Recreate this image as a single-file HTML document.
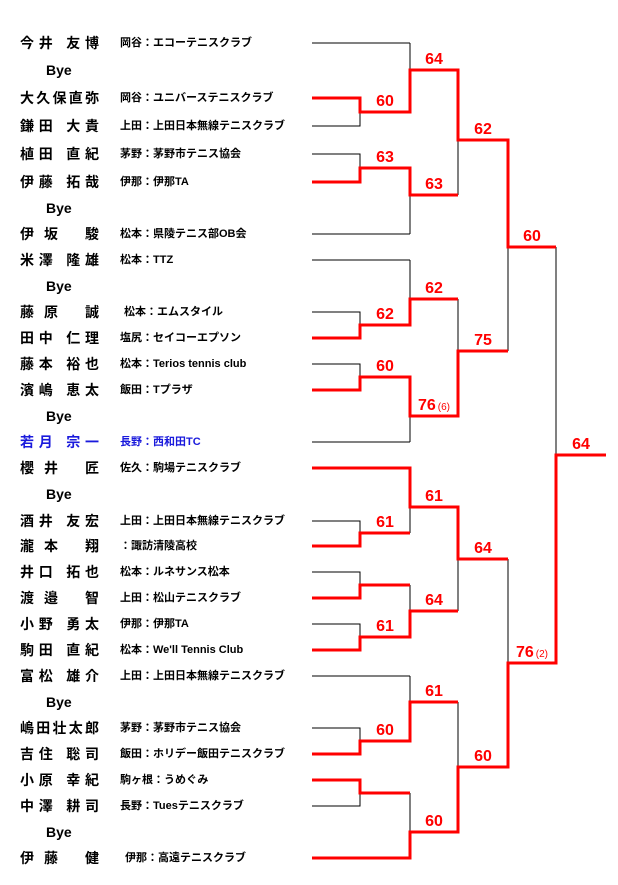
<!DOCTYPE html>
<html><head><meta charset="utf-8"><style>
html,body{margin:0;padding:0;background:#fff;}
svg{display:block;}
.n{font-family:"Liberation Sans","Noto Sans CJK JP",sans-serif;font-size:14px;font-weight:bold;fill:#000;}
.c{font-family:"Liberation Sans","Noto Sans CJK JP",sans-serif;font-size:11px;font-weight:bold;fill:#000;}
.b{fill:#1a1adc;}
.s{font-family:"Liberation Sans",sans-serif;font-size:16px;font-weight:bold;fill:#f00;text-anchor:middle;}
.ss{font-size:10px;font-weight:normal;}
</style></head><body>
<svg width="618" height="885" xmlns="http://www.w3.org/2000/svg">
<g dominant-baseline="central">
<text class="n" x="20" y="43" textLength="79" lengthAdjust="spacing">今井 友博</text><text class="c" x="120" y="43">岡谷：エコーテニスクラブ</text>
<text class="n" x="46" y="70">Bye</text>
<text class="n" x="20" y="98" textLength="79" lengthAdjust="spacing">大久保直弥</text><text class="c" x="120" y="98">岡谷：ユニバーステニスクラブ</text>
<text class="n" x="20" y="126" textLength="79" lengthAdjust="spacing">鎌田 大貴</text><text class="c" x="120" y="126">上田：上田日本無線テニスクラブ</text>
<text class="n" x="20" y="154" textLength="79" lengthAdjust="spacing">植田 直紀</text><text class="c" x="120" y="154">茅野：茅野市テニス協会</text>
<text class="n" x="20" y="182" textLength="79" lengthAdjust="spacing">伊藤 拓哉</text><text class="c" x="120" y="182">伊那：伊那TA</text>
<text class="n" x="46" y="208">Bye</text>
<text class="n" x="20" y="234" textLength="79" lengthAdjust="spacing">伊 坂　 駿</text><text class="c" x="120" y="234">松本：県陵テニス部OB会</text>
<text class="n" x="20" y="260" textLength="79" lengthAdjust="spacing">米澤 隆雄</text><text class="c" x="120" y="260">松本：TTZ</text>
<text class="n" x="46" y="286">Bye</text>
<text class="n" x="20" y="312" textLength="79" lengthAdjust="spacing">藤 原　 誠</text><text class="c" x="124" y="312">松本：エムスタイル</text>
<text class="n" x="20" y="338" textLength="79" lengthAdjust="spacing">田中 仁理</text><text class="c" x="120" y="338">塩尻：セイコーエプソン</text>
<text class="n" x="20" y="364" textLength="79" lengthAdjust="spacing">藤本 裕也</text><text class="c" x="120" y="364">松本：Terios tennis club</text>
<text class="n" x="20" y="390" textLength="79" lengthAdjust="spacing">濱嶋 恵太</text><text class="c" x="120" y="390">飯田：Tプラザ</text>
<text class="n" x="46" y="416">Bye</text>
<text class="n b" x="20" y="442" textLength="79" lengthAdjust="spacing">若月 宗一</text><text class="c b" x="120" y="442">長野：西和田TC</text>
<text class="n" x="20" y="468" textLength="79" lengthAdjust="spacing">櫻 井　 匠</text><text class="c" x="120" y="468">佐久：駒場テニスクラブ</text>
<text class="n" x="46" y="494">Bye</text>
<text class="n" x="20" y="521" textLength="79" lengthAdjust="spacing">酒井 友宏</text><text class="c" x="120" y="521">上田：上田日本無線テニスクラブ</text>
<text class="n" x="20" y="546" textLength="79" lengthAdjust="spacing">瀧 本　 翔</text><text class="c" x="120" y="546">：諏訪清陵高校</text>
<text class="n" x="20" y="572" textLength="79" lengthAdjust="spacing">井口 拓也</text><text class="c" x="120" y="572">松本：ルネサンス松本</text>
<text class="n" x="20" y="598" textLength="79" lengthAdjust="spacing">渡 邉　 智</text><text class="c" x="120" y="598">上田：松山テニスクラブ</text>
<text class="n" x="20" y="624" textLength="79" lengthAdjust="spacing">小野 勇太</text><text class="c" x="120" y="624">伊那：伊那TA</text>
<text class="n" x="20" y="650" textLength="79" lengthAdjust="spacing">駒田 直紀</text><text class="c" x="120" y="650">松本：We'll Tennis Club</text>
<text class="n" x="20" y="676" textLength="79" lengthAdjust="spacing">富松 雄介</text><text class="c" x="120" y="676">上田：上田日本無線テニスクラブ</text>
<text class="n" x="46" y="702">Bye</text>
<text class="n" x="20" y="728" textLength="79" lengthAdjust="spacing">嶋田壮太郎</text><text class="c" x="120" y="728">茅野：茅野市テニス協会</text>
<text class="n" x="20" y="754" textLength="79" lengthAdjust="spacing">吉住 聡司</text><text class="c" x="120" y="754">飯田：ホリデー飯田テニスクラブ</text>
<text class="n" x="20" y="780" textLength="79" lengthAdjust="spacing">小原 幸紀</text><text class="c" x="120" y="780">駒ヶ根：うめぐみ</text>
<text class="n" x="20" y="806" textLength="79" lengthAdjust="spacing">中澤 耕司</text><text class="c" x="120" y="806">長野：Tuesテニスクラブ</text>
<text class="n" x="46" y="832">Bye</text>
<text class="n" x="20" y="858" textLength="79" lengthAdjust="spacing">伊 藤　 健</text><text class="c" x="125" y="858">伊那：高遠テニスクラブ</text>
</g>
<g stroke="#000" stroke-width="1" fill="none">
<path d="M312 43H410M312 234H410M312 260H410M312 442H410M312 468H410M312 676H410M312 858H410"/>
<path d="M312 98H360V126H312M312 154H360V182H312M312 312H360V338H312M312 364H360V390H312M312 521H360V546H312M312 572H360V598H312M312 624H360V650H312M312 728H360V754H312M312 780H360V806H312"/>
<path d="M360 112H410M360 168H410M360 325H410M360 377H410M360 533H410M360 585H410M360 637H410M360 741H410M360 793H410"/>
<path d="M410 43V112M410 168V234M410 260V325M410 377V442M410 468V533M410 585V637M410 676V741M410 793V858"/>
<path d="M410 70H458M410 195H458M410 299H458M410 416H458M410 507H458M410 611H458M410 702H458M410 832H458"/>
<path d="M458 70V195M458 299V416M458 507V611M458 702V832"/>
<path d="M458 140H508M458 351H508M458 559H508M458 767H508"/>
<path d="M508 140V351M508 559V767M508 247H556M508 663H556M556 247V663M556 455H605"/>
</g>
<g stroke="#f00" stroke-width="3" fill="none" stroke-linejoin="miter">
<polyline points="312,98 360,98 360,112 410,112 410,70 458,70 458,140 508,140 508,247 556,247"/>
<polyline points="312,182 360,182 360,168 410,168 410,195 458,195"/>
<polyline points="312,338 360,338 360,325 410,325 410,299 458,299"/>
<polyline points="312,390 360,390 360,377 410,377 410,416 458,416 458,351 508,351"/>
<polyline points="312,468 410,468 410,507 458,507 458,559 508,559"/>
<polyline points="312,546 360,546 360,533 410,533"/>
<polyline points="312,598 360,598 360,585 410,585"/>
<polyline points="312,650 360,650 360,637 410,637 410,611 458,611"/>
<polyline points="312,754 360,754 360,741 410,741 410,702 458,702"/>
<polyline points="312,780 360,780 360,793 410,793"/>
<polyline points="312,858 410,858 410,832 458,832 458,767 508,767 508,663 556,663 556,455 606,455"/>
</g>
<g>
<text class="s" x="385" y="106">60</text>
<text class="s" x="385" y="162">63</text>
<text class="s" x="385" y="319">62</text>
<text class="s" x="385" y="371">60</text>
<text class="s" x="385" y="527">61</text>
<text class="s" x="385" y="631">61</text>
<text class="s" x="385" y="735">60</text>
<text class="s" x="434" y="64">64</text>
<text class="s" x="434" y="189">63</text>
<text class="s" x="434" y="293">62</text>
<text class="s" x="434" y="410">76<tspan class="ss" dx="2">(6)</tspan></text>
<text class="s" x="434" y="501">61</text>
<text class="s" x="434" y="605">64</text>
<text class="s" x="434" y="696">61</text>
<text class="s" x="434" y="826">60</text>
<text class="s" x="483" y="134">62</text>
<text class="s" x="483" y="345">75</text>
<text class="s" x="483" y="553">64</text>
<text class="s" x="483" y="761">60</text>
<text class="s" x="532" y="241">60</text>
<text class="s" x="532" y="657">76<tspan class="ss" dx="2">(2)</tspan></text>
<text class="s" x="581" y="449">64</text>
</g>
</svg>
</body></html>
